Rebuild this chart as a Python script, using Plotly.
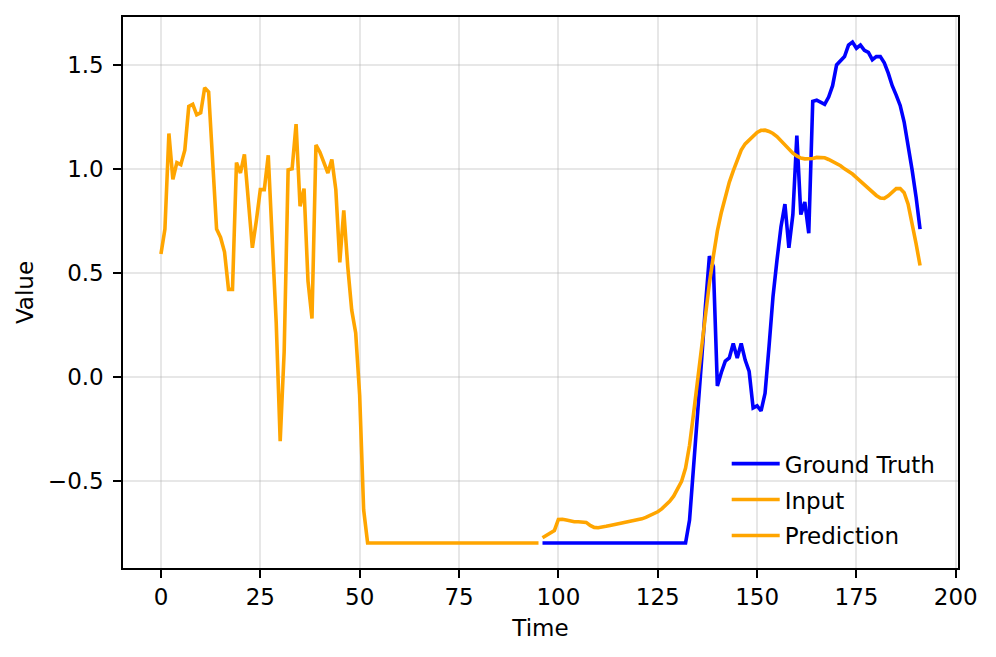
import plotly.graph_objects as go

# ---------------- data ----------------
input_x = list(range(0, 96))
input_vals = [
    0.59, 0.71, 1.17, 0.95, 1.03, 1.02, 1.09, 1.30, 1.31, 1.26,
    1.27, 1.39, 1.37, 1.05, 0.71, 0.67, 0.60, 0.42, 0.42, 1.03,
    0.98, 1.07, 0.85, 0.62, 0.75, 0.90, 0.90, 1.065, 0.66, 0.26,
    -0.31, 0.12, 0.995, 1.00, 1.215, 0.82, 0.905, 0.46, 0.28, 1.115,
    1.08, 1.03, 0.98, 1.045, 0.90, 0.55, 0.80, 0.53, 0.32, 0.21,
    -0.09, -0.64,
] + [-0.80] * 44

future_x = list(range(96, 192))
truth_vals = [-0.80] * 37 + [
    -0.69, -0.45, -0.19, 0.07, 0.34, 0.58, 0.53, -0.045, 0.02, 0.075,
    0.09, 0.16, 0.09, 0.16, 0.08, 0.025, -0.15, -0.14, -0.165, -0.08,
    0.145, 0.385, 0.56, 0.72, 0.83, 0.62, 0.78, 1.16, 0.78, 0.84,
    0.69, 1.325, 1.33, 1.32, 1.31, 1.345, 1.40, 1.50, 1.52, 1.54,
    1.595, 1.61, 1.58, 1.595, 1.57, 1.56, 1.525, 1.54, 1.54, 1.51,
    1.46, 1.40, 1.355, 1.305, 1.225, 1.12, 0.995, 0.865, 0.71,
]
pred_vals = [
    -0.775, -0.764, -0.751, -0.74, -0.687, -0.686, -0.69, -0.695, -0.698, -0.698,
    -0.70, -0.701, -0.716, -0.725, -0.727, -0.725, -0.72, -0.716, -0.712, -0.709,
    -0.706, -0.703, -0.698, -0.694, -0.688, -0.684, -0.677, -0.669, -0.66, -0.65,
    -0.636, -0.62, -0.60, -0.575, -0.543, -0.503, -0.44, -0.33, -0.18, -0.02,
    0.15, 0.31, 0.45, 0.58, 0.70, 0.79, 0.87, 0.935, 0.99, 1.04,
    1.09, 1.12, 1.14, 1.16, 1.175, 1.185, 1.186, 1.18, 1.17, 1.155,
    1.135, 1.11, 1.09, 1.075, 1.062, 1.052, 1.048, 1.047, 1.05, 1.055,
    1.056, 1.053, 1.045, 1.035, 1.025, 1.015, 1.0, 0.988, 0.975, 0.958,
    0.94, 0.922, 0.905, 0.89, 0.872, 0.86, 0.858, 0.87, 0.89, 0.905,
    0.905, 0.885, 0.83, 0.74, 0.64, 0.535,
]

x_tickvals = [0, 25, 50, 75, 100, 125, 150, 175, 200]
x_ticktext = ["0", "25", "50", "75", "100", "125", "150", "175", "200"]
y_tickvals = [-0.5, 0.0, 0.5, 1.0, 1.5]
y_ticktext = ["\u22120.5", "0.0", "0.5", "1.0", "1.5"]

# ---------------- figure ----------------
FONT = "DejaVu Sans"
FS = 23.0
LW = 3.6

fig = go.Figure()
fig.add_trace(go.Scatter(x=future_x, y=truth_vals, mode="lines", name="Ground Truth",
                         line=dict(color="#0000ff", width=LW), legendgroup="a"))
fig.add_trace(go.Scatter(x=input_x, y=input_vals, mode="lines", name="Input",
                         line=dict(color="#ffa500", width=LW), legendgroup="b"))
fig.add_trace(go.Scatter(x=future_x, y=pred_vals, mode="lines", name="Prediction",
                         line=dict(color="#ffa500", width=LW), legendgroup="c"))

all_x = input_x + future_x
all_y = input_vals + truth_vals + pred_vals
xpad = 0.05 * (max(all_x) - min(all_x))
ypad = 0.05 * (max(all_y) - min(all_y))

axis_common = dict(
    showline=True, mirror=True, linecolor="black", linewidth=1.75,
    ticks="outside", ticklen=7.8, tickwidth=1.75, tickcolor="black",
    showgrid=True, gridcolor="rgba(176,176,176,0.3)", gridwidth=1.75,
    zeroline=False, tickfont=dict(family=FONT, size=FS, color="black"),
)

# page body has an 8px offset; figure sized to fit the 996x657 window
fig.update_layout(
    width=988, height=649,
    margin=dict(l=114.5, r=37.5, t=8.7, b=88.7),
    paper_bgcolor="white", plot_bgcolor="white",
    font=dict(family=FONT, size=FS, color="black"),
    xaxis=dict(range=[min(all_x) - xpad, max(all_x) + xpad],
               tickmode="array", tickvals=x_tickvals, ticktext=x_ticktext,
               title=dict(text="Time", font=dict(family=FONT, size=FS), standoff=11),
               **axis_common),
    yaxis=dict(range=[min(all_y) - ypad, max(all_y) + ypad],
               tickmode="array", tickvals=y_tickvals, ticktext=y_ticktext,
               ticklabelstandoff=5,
               title=dict(text="Value", font=dict(family=FONT, size=FS), standoff=8),
               **axis_common),
    legend=dict(x=0.723, y=0.124, xanchor="left", yanchor="middle",
                bgcolor="rgba(0,0,0,0)", borderwidth=0,
                font=dict(family=FONT, size=FS, color="black"),
                itemwidth=48, tracegroupgap=3, traceorder="grouped"),
    showlegend=True,
)

fig.write_html("out.html")
